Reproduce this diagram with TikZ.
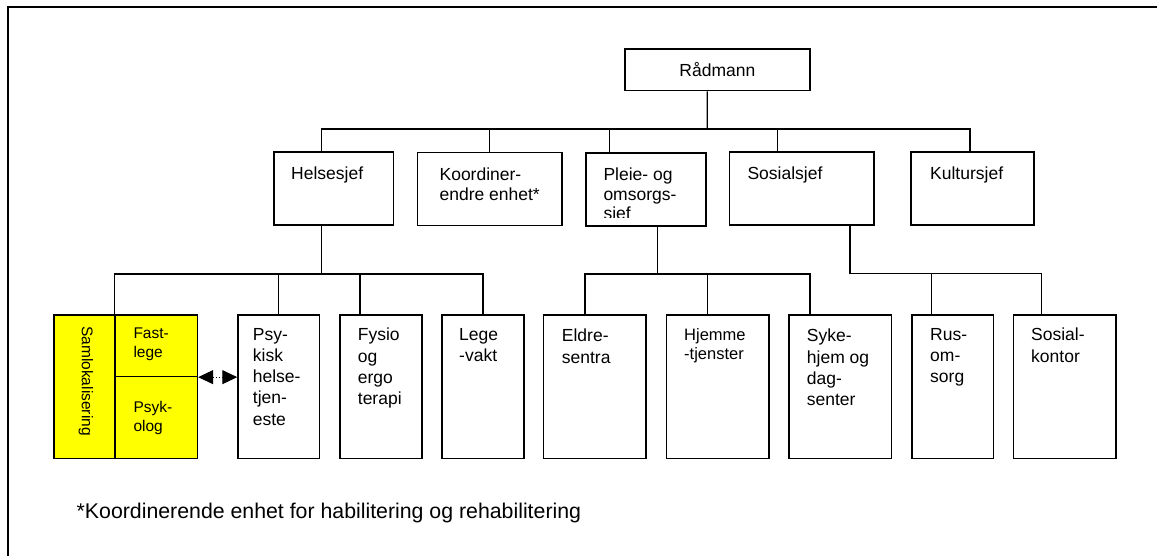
\documentclass[tikz,border=0pt]{standalone}
\usepackage{fontspec}
\setmainfont{Liberation Sans}
\usepackage{tikz}
\usetikzlibrary{arrows.meta, positioning, calc}
\definecolor{samlyellow}{RGB}{255,255,0}

\begin{document}
\begin{tikzpicture}[
    x=1pt, y=-1pt,
    unit/.style={rectangle, draw, line width=1.6pt, inner sep=0pt},
    chief/.style={unit, minimum height=73.3pt},
    service/.style={unit, minimum height=143.3pt},
    chieftext/.style={anchor=north west, align=left, inner sep=0pt, font=\fontsize{17.5}{19.5}\selectfont},
    servicetext/.style={anchor=north west, align=left, inner sep=0pt, font=\fontsize{17.5}{21.2}\selectfont},
    smalltext/.style={anchor=north west, align=left, inner sep=0pt, font=\fontsize{15.5}{19.4}\selectfont},
    link/.style={line width=1.3pt},
    biarrow/.style={{Triangle[length=15pt,width=14pt]}-{Triangle[length=15pt,width=14pt]}, dotted, line width=1pt},
]
\useasboundingbox (0,0) rectangle (1157,556);

% frame, only top and left edge visible
\draw[line width=2pt] (7.5,556) -- (7.5,7.5) -- (1157,7.5);

% Top
\node[unit, minimum width=185.3pt, minimum height=41.4pt, font=\fontsize{17.5}{19.5}\selectfont] (rad) at (717.4,70) {Rådmann};

% Chiefs
\node[chief, minimum width=119.3pt] (hel) at (333.7,188.4) {};
\node[chief, minimum width=144.4pt, minimum height=72.8pt] (koord) at (489.5,189.1) {};
\node[chief, minimum width=120.3pt] (pleie) at (645.9,189.4) {};
\node[chief, minimum width=144.7pt] (sos) at (801.7,188.4) {};
\node[chief, minimum width=123.3pt] (kult) at (972.4,188.4) {};

\node[chieftext] (heltxt) at (291,166.5) {Helsesjef};
\node[chieftext] (koordtxt) at (439.4,168) {Koordiner-\\endre enhet*};
\begin{scope}
  \clip (585.7,152.7) rectangle (706,217.2);
  \node[chieftext] (pleietxt) at (603.3,168) {Pleie- og\\omsorgs-\\sief};
\end{scope}
\node[chieftext] (sostxt) at (747.3,166.5) {Sosialsjef};
\node[chieftext] (kulttxt) at (930,166.5) {Kultursjef};

% Samlokalisering block
\node[service, minimum width=61pt, fill=samlyellow] (saml) at (84.5,386.7) {};
\node[unit, minimum width=82.3pt, minimum height=61.3pt, fill=samlyellow] (fast) at (156.2,345.7) {};
\node[unit, minimum width=82.3pt, minimum height=82pt, fill=samlyellow] (psykol) at (156.2,417.3) {};
\node[rotate=-90, inner sep=0pt, font=\fontsize{15.5}{19}\selectfont] (samltxt) at (86,381) {Samlokalisering};
\node[smalltext] (fasttxt) at (133.3,327.3) {Fast-\\lege};
\node[smalltext] (psykoltxt) at (133.3,401) {Psyk-\\olog};

% Services
\node[service, minimum width=81.3pt] (psyk) at (278.7,386.7) {};
\node[service, minimum width=81.7pt] (fysio) at (380.9,386.7) {};
\node[service, minimum width=82pt] (lege) at (483,386.7) {};
\node[service, minimum width=102.7pt] (eldre) at (594.7,386.7) {};
\node[service, minimum width=102.5pt] (hjem) at (717.8,386.7) {};
\node[service, minimum width=102.3pt] (syke) at (840.2,386.7) {};
\node[service, minimum width=81.6pt] (rus) at (952.5,386.7) {};
\node[service, minimum width=102.7pt] (sosk) at (1064.7,386.7) {};

\node[servicetext] (psyktxt) at (252.7,328) {Psy-\\kisk\\helse-\\tjen-\\este};
\node[servicetext] (fysiotxt) at (357.7,328) {Fysio\\og\\ergo\\terapi};
\node[servicetext] (legetxt) at (459,328) {Lege\\-vakt};
\node[servicetext] (eldretxt) at (561.7,329) {Eldre-\\sentra};
\node[servicetext, font=\fontsize{16.5}{19.3}\selectfont] (hjemtxt) at (684,328) {Hjemme\\-tjenster};
\node[servicetext] (syketxt) at (806.7,329) {Syke-\\hjem og\\dag-\\senter};
\node[servicetext] (rustxt) at (930,328) {Rus-\\om-\\sorg};
\node[servicetext] (sosktxt) at (1031,328) {Sosial-\\kontor};

% Rådmann to chiefs
\coordinate (topbus) at (707.3,129);
\draw[link] ([xshift=-10.1pt]rad.south) -- (topbus);
\draw[link] ([xshift=-12pt]hel.north) -- ([xshift=-12pt]hel.north |- topbus) -- ([xshift=-2.4pt]kult.north |- topbus) -- ([xshift=-2.4pt]kult.north);
\draw[link] (koord.north) -- (koord.north |- topbus);
\draw[link] ([xshift=-36.2pt]pleie.north) -- ([xshift=-36.2pt]pleie.north |- topbus);
\draw[link] ([xshift=-24pt]sos.north) -- ([xshift=-24pt]sos.north |- topbus);

% Helsesjef group
\coordinate (helbus) at (321.7,274);
\draw[link] ([xshift=-12pt]hel.south) -- (helbus);
\draw[link] (fast.north west) -- (fast.north west |- helbus) -- (lege.north |- helbus) -- (lege.north);
\draw[link] (psyk.north) -- (psyk.north |- helbus);
\draw[link] ([xshift=-21pt]fysio.north) -- ([xshift=-21pt]fysio.north |- helbus);

% Pleie group
\coordinate (pleiebus) at (657.7,274);
\draw[link] ([xshift=11.8pt]pleie.south) -- (pleiebus);
\draw[link] ([xshift=-9.7pt]eldre.north) -- ([xshift=-9.7pt]eldre.north |- pleiebus) -- ([xshift=-30.2pt]syke.north |- pleiebus) -- ([xshift=-30.2pt]syke.north);
\draw[link] ([xshift=-10.5pt]hjem.north) -- ([xshift=-10.5pt]hjem.north |- pleiebus);

% Sosial group
\coordinate (sosbus) at (850,273.3);
\draw[link] ([xshift=48.3pt]sos.south) -- (sosbus) -- ([xshift=-23pt]sosk.north |- sosbus) -- ([xshift=-23pt]sosk.north);
\draw[link] ([xshift=-20.8pt]rus.north) -- ([xshift=-20.8pt]rus.north |- sosbus);

% cooperation arrow
\draw[biarrow] (fast.south east) -- (fast.south east -| psyk.west);

% footnote
\node[anchor=base west, inner sep=0pt, font=\fontsize{21.3}{24}\selectfont] (note) at (76.5,518.3) {*Koordinerende enhet for habilitering og rehabilitering};

\end{tikzpicture}
\end{document}
